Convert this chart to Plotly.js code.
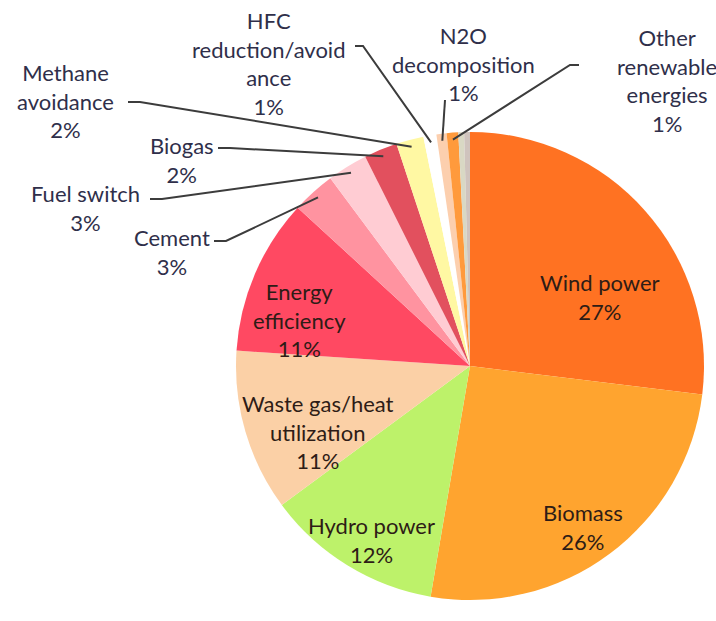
<!DOCTYPE html>
<html>
<head>
<meta charset="utf-8">
<script src="https://cdn.plot.ly/plotly-3.0.1.min.js"></script>
<style>html,body{margin:0;padding:0;background:#fff;}#chart{width:716px;height:621px;}</style>
</head>
<body>
<div id="chart"></div>
<script>
// ---- data (clockwise from 12 o'clock) ----
const categories = ["Wind power","Biomass","Hydro power","Waste gas/heat utilization","Energy efficiency","Cement","Fuel switch","Biogas","Methane avoidance","HFC reduction/avoidance","N2O decomposition","Other renewable energies","Other a","Other b"];
const values = [27.0, 25.8, 12.2, 11.2, 10.8, 3.0, 2.8, 2.3, 1.9, 0.9, 0.7, 0.8, 0.4, 0.4];
const displayLabels = ["Wind power","Biomass","Hydro power","Waste gas/heat<br>utilization","Energy<br>efficiency","Cement","Fuel switch","Biogas","Methane<br>avoidance","HFC<br>reduction/avoid<br>ance","N2O<br>decomposition","Other<br>renewable<br>energies","",""];
const colors = ["#FF7222","#FFA42F","#BDF26A","#FBD0A6","#FF4962","#FF93A0","#FFCCD3","#E2505E","#FFF8A3","#FFFFFF","#FCCFAE","#FF9A3C","#D9D8C4","#CFC3BD"];
// inside label blocks: [category index, centre x px, centre y px]
const insideLabels = [
  [0, 600, 297],
  [1, 583, 527],
  [2, 371, 540],
  [3, 318, 432],
  [4, 299, 320]
];
// outside label blocks: [category index, centre x px, centre y px, leader start x, start y, elbow x]
const outsideLabels = [
  [9, 268, 63, 355, 46, 363],
  [10, 463, 64, 445, 100, 445],
  [11, 667, 80, 579, 65, 570],
  [8, 65, 101, 128, 102, 140],
  [7, 182, 160, 218, 148, 230],
  [6, 85, 208, 150, 199, 162],
  [5, 172, 252, 214, 241, 226]
];

const W = 716, H = 621;
const cx = 470, cy = 366, R = 234;
const total = values.reduce((a,b)=>a+b,0);
const pct = v => Math.round(v/total*100) + "%";
const FONT = "Lato, 'Open Sans', sans-serif";

const trace = {
  type: "pie",
  labels: categories,
  values: values,
  textinfo: "none",
  sort: false,
  direction: "clockwise",
  rotation: 0,
  marker: {colors: colors, line: {width: 0}},
  domain: {x: [(cx-R)/W, (cx+R)/W], y: [(H-cy-R)/H, (H-cy+R)/H]},
  showlegend: false,
  hoverinfo: "label+percent"
};

// cumulative mid angles for leader line endpoints
const cum = [];
let acc = 0;
values.forEach(v => { cum.push(acc + v/2); acc += v; });

const px = x => x / W;
const py = y => 1 - y / H;

const annotations = [];
const shapes = [];
insideLabels.forEach(([i, lx, ly]) => {
  annotations.push({
    xref: "paper", yref: "paper", x: px(lx), y: py(ly),
    xanchor: "center", yanchor: "middle", showarrow: false,
    text: displayLabels[i] + "<br>" + pct(values[i]),
    font: {family: FONT, size: 22, color: "#2e1c16"},
    align: "center"
  });
});
outsideLabels.forEach(([i, lx, ly, sx, sy, ex]) => {
  annotations.push({
    xref: "paper", yref: "paper", x: px(lx), y: py(ly),
    xanchor: "center", yanchor: "middle", showarrow: false,
    text: displayLabels[i] + "<br>" + pct(values[i]),
    font: {family: FONT, size: 22, color: "#2f2f4a"},
    align: "center"
  });
  const th = 2*Math.PI*cum[i]/total;
  const tx = cx + 0.97*R*Math.sin(th);
  const ty = cy - 0.97*R*Math.cos(th);
  shapes.push({
    type: "path", xref: "paper", yref: "paper",
    path: `M ${px(sx)} ${py(sy)} L ${px(ex)} ${py(sy)} L ${px(tx)} ${py(ty)}`,
    line: {color: "#3c3c3c", width: 2}
  });
});

const layout = {
  width: W, height: H,
  margin: {l: 0, r: 0, t: 0, b: 0},
  paper_bgcolor: "#ffffff",
  annotations: annotations,
  shapes: shapes,
  font: {family: FONT}
};

Plotly.newPlot("chart", [trace], layout, {displayModeBar: false, staticPlot: true});
</script>
</body>
</html>
